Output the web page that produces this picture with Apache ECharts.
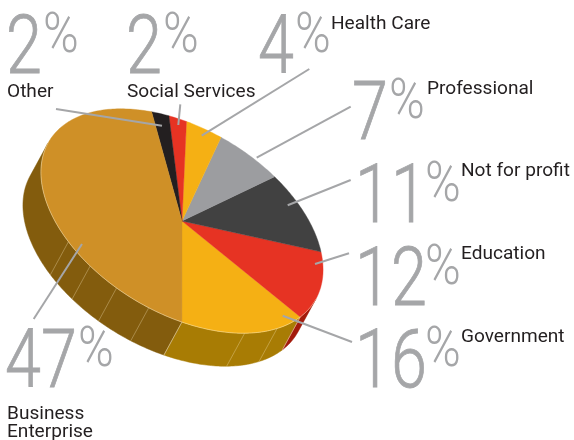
<!DOCTYPE html>
<html><head><meta charset="utf-8">
<style>html,body{margin:0;padding:0;background:#fff}#c{width:574px;height:440px}</style>
<script src="https://cdn.jsdelivr.net/npm/echarts@6/dist/echarts.min.js"></script>
</head><body><div id="c"></div>
<script>
// ---- data
const categories = ['Government','Education','Not for profit','Professional','Health Care','Social Services','Other','Business Enterprise'];
const values = [16,12,11,7,4,2,2,47];
const labelLines = [['Government'],['Education'],['Not for profit'],['Professional'],['Health Care'],['Social Services'],['Other'],['Business','Enterprise']];
// ---- style
const faceColors = ['#F5B014','#E63323','#414141','#9C9DA0','#F5B014','#E63323','#231F20','#CF9027'];
const wallColors = ['#A87C04','#A31A0B','#2a2a2a','#6a6a6c','#A87C04','#A31A0B','#111111','#835C0D'];
// ---- layout
const cx=182, cy=221, ra=155, rb=92, tilt=31*Math.PI/180, startDeg=70.4, depth=[-18,33];
const frontFrom=-1.4, frontTo=178.6;
const seamDegs=[44,28,84,98,111,124];
const pctLayout=[ // digit left, digit baseline, percent left
 [355,388,425],[355,306,425],[355,223,425],[352,140,389],[258,74,295],[126,74,163],[6,74,43],[5,388,78]];
const textLayout=[[461,342],[461,259],[461,176],[427,94],[331,29],[127,97],[7,97],[7,419]];
const leaders=[[352,342,282.7,315.7],[349,253.3,315,264],[350.7,180,287.7,205.3],[350.7,106.7,256.7,157.7],
 [309.3,69,201.7,135.7],[180.3,104.3,178.3,125],[56,109,162,125.7],[33.7,319,82,244]];

const total=values.reduce((a,b)=>a+b,0);
const spans=[];let acc=startDeg;
values.forEach(v=>{const e=acc-v/total*360;spans.push([acc,e]);acc=e;});
function pt(deg,off){const t=deg*Math.PI/180,x=ra*Math.cos(t),y=rb*Math.sin(t);
 const o=off?depth:[0,0];
 return [cx+x*Math.cos(tilt)-y*Math.sin(tilt)+o[0],cy+x*Math.sin(tilt)+y*Math.cos(tilt)+o[1]];}
function arc(a,b,off){const n=Math.max(2,Math.ceil(Math.abs(b-a))),p=[];for(let i=0;i<=n;i++)p.push(pt(a+(b-a)*i/n,off));return p;}
function visibleRanges(a,b){
 const out=[];for(const k of [-360,0,360]){const hi=Math.min(a+k,frontTo),lo=Math.max(b+k,frontFrom);if(hi>lo)out.push([hi,lo]);}return out;}

function wallItem(params,api){
 const i=params.dataIndex,[a,b]=spans[i],kids=[];
 visibleRanges(a,b).forEach(([h,l])=>{
  const pts=arc(h,l,false).concat(arc(l,h,true));
  kids.push({type:'polygon',shape:{points:pts},style:{fill:wallColors[i],stroke:wallColors[i],lineWidth:.5}});
  seamDegs.concat([h,l]).forEach(d=>{if(d<=h&&d>=l&&d<frontTo&&d>frontFrom){const p=pt(d,false),q=pt(d,true);
   kids.push({type:'line',z2:5,shape:{x1:p[0],y1:p[1],x2:q[0],y2:q[1]},style:{stroke:'rgba(255,240,200,.45)',lineWidth:.7}});}});
 });
 return {type:'group',children:kids};
}
function faceItem(params,api){
 const i=params.dataIndex,[a,b]=spans[i];
 const kids=[{type:'polygon',shape:{points:[[cx,cy]].concat(arc(a,b,false))},style:{fill:faceColors[i],stroke:faceColors[i],lineWidth:.4}}];
 visibleRanges(a,b).forEach(([h,l])=>{kids.push({type:'polyline',z2:5,shape:{points:arc(h,l,false)},style:{fill:null,stroke:'rgba(255,245,215,.6)',lineWidth:.7}});});
 return {type:'group',children:kids};
}
const GRAY='#A5A6A8',FONT='Roboto, sans-serif';
function noteItem(params,api){
 const i=params.dataIndex,l=leaders[i],n=pctLayout[i],t=textLayout[i];
 const kids=[{type:'line',shape:{x1:l[0],y1:l[1],x2:l[2],y2:l[3]},style:{stroke:GRAY,lineWidth:2}},
  {type:'text',x:n[0],y:n[1]-61.5,scaleX:.8,style:{text:String(api.value(0)),font:'300 81px '+FONT,fill:GRAY,stroke:GRAY,lineWidth:.8,textAlign:'left',textVerticalAlign:'top'}},
  {type:'text',x:n[2],y:n[1]-63.4,scaleX:.88,style:{text:'%',font:'300 55px '+FONT,fill:GRAY,textAlign:'left',textVerticalAlign:'top'}}];
 labelLines[i].forEach((s,k)=>kids.push({type:'text',x:t[0],y:t[1]-14+k*18,scaleX:1.06,style:{text:s,font:'400 18px '+FONT,fill:'#231F20',textAlign:'left',textVerticalAlign:'top'}}));
 return {type:'group',children:kids};
}
const chart=echarts.init(document.getElementById('c'),null,{renderer:'canvas'});
const data=categories.map((c,i)=>({name:c,value:values[i]}));
const base={type:'custom',coordinateSystem:'none',data,animation:false,silent:true,encode:{value:0}};
chart.setOption({backgroundColor:'#fff',animation:false,series:[
 Object.assign({},base,{renderItem:wallItem,z:1}),
 Object.assign({},base,{renderItem:faceItem,z:2}),
 Object.assign({},base,{renderItem:noteItem,z:3})
]});
</script></body></html>
